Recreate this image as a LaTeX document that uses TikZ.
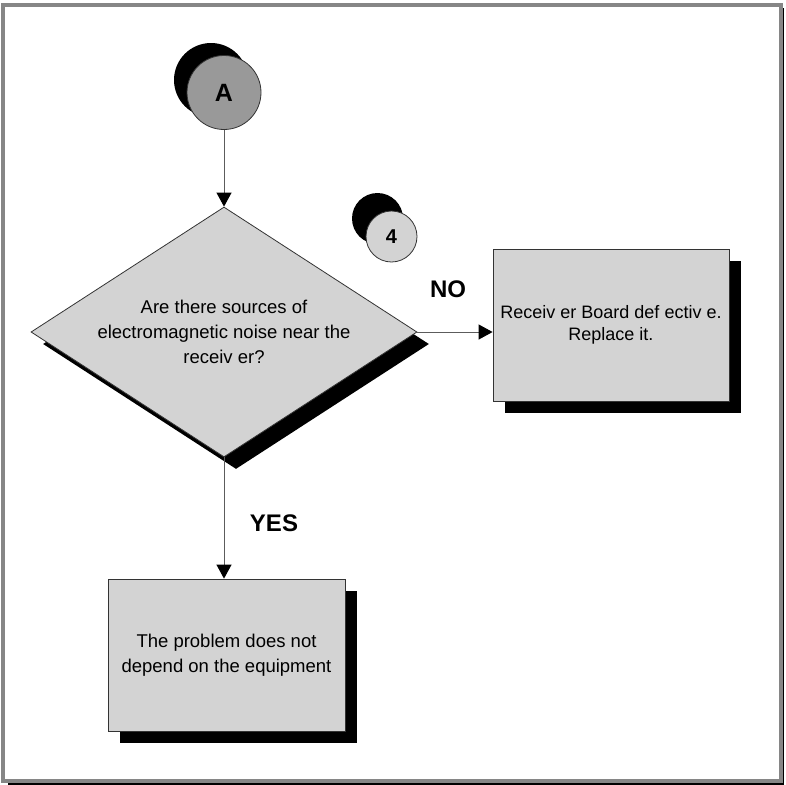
\documentclass[tikz,border=0pt]{standalone}
\usepackage{fontspec}
\setmainfont{Liberation Sans}
\definecolor{FlowLight}{HTML}{D3D3D3}
\definecolor{FlowMid}{HTML}{999999}
\definecolor{FlowFrame}{HTML}{868686}
\definecolor{FlowLine}{HTML}{333333}
\usetikzlibrary{shapes.geometric,arrows.meta,shadows}
\tikzset{
    % Base node style
    basenode/.style={
        draw=FlowLine,
        line width=0.8pt,
        align=center,
        inner sep=0pt,
        font=\fontsize{18.5}{25}\selectfont
    },
    % Decision diamond
    decisionnode/.style={
        basenode,
        diamond,
        aspect=1.544,
        fill=FlowLight,
        minimum width=386pt,
        minimum height=250pt,
        drop shadow={opacity=1, fill=black, shadow xshift=12pt, shadow yshift=-12pt}
    },
    % Action box
    actionnode/.style={
        basenode,
        rectangle,
        fill=FlowLight,
        minimum width=237pt,
        minimum height=152pt,
        drop shadow={opacity=1, fill=black, shadow xshift=12pt, shadow yshift=-12pt}
    },
    % Connector circle
    connnode/.style={
        basenode,
        circle,
        font=\fontsize{25}{27}\selectfont\bfseries
    },
    % Branch label
    labelnode/.style={
        font=\fontsize{24}{28}\selectfont\bfseries
    },
    % Arrow style
    flowarrow/.style={
        -{Triangle[length=14pt, width=15pt, color=black]},
        line width=1pt,
        draw=FlowLine!80
    }
}
\begin{document}
\begin{tikzpicture}[x=1pt, y=-1pt]
    \useasboundingbox (0,0) rectangle (785,785);
    % frame
    \draw[black, line width=1.6pt] (783.4,8) -- (783.4,784.2) -- (8,784.2);
    \draw[FlowFrame, line width=3.5pt] (2.8,5) rectangle (780.8,781);

    \node[connnode, fill=FlowMid, minimum size=74pt,
          drop shadow={opacity=1, fill=black, shadow xshift=-13pt, shadow yshift=12.5pt}] (conA) at (224,92.5) {A};
    \node[connnode, fill=FlowLight, minimum size=51pt, font=\fontsize{20}{22}\selectfont\bfseries,
          drop shadow={opacity=1, fill=black, shadow xshift=-14pt, shadow yshift=18pt}] (con4) at (391.5,236.5) {4};

    \node[decisionnode] (noise) at (224,332) {Are there sources of\\electromagnetic noise near the\\receiv er?};
    \node[actionnode, minimum width=236pt, font=\fontsize{18}{22}\selectfont] (board) at (611,325) {Receiv er Board def ectiv e.\\Replace it.};
    \node[actionnode] (noequip) at (226.5,655) {The problem does not\\depend on the equipment};

    \node[labelnode] (no) at (448,289) {NO};
    \node[labelnode] (yes) at (274,523) {YES};

    \draw[flowarrow] (conA) -- (noise);
    \draw[flowarrow] (noise.east) -- (noise.east -| board.west);
    \draw[flowarrow] (noise.south) -- (noise.south |- noequip.north);
\end{tikzpicture}
\end{document}
